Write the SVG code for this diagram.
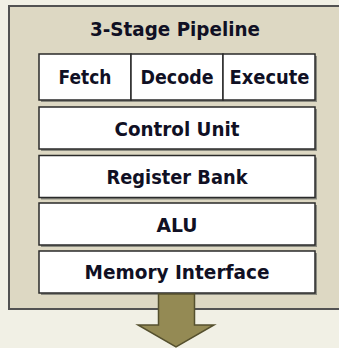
<svg xmlns="http://www.w3.org/2000/svg" width="339" height="348" viewBox="0 0 339 348">
<style>
.box{fill:#ffffff;stroke:#2a2a2a;stroke-width:1.5}
.shd{fill:#8a8a80}
.lbl{font-family:"DejaVu Sans","Liberation Sans",sans-serif;font-weight:bold;font-size:19px;fill:#101024;text-anchor:middle}
</style>
<rect x="0" y="0" width="339" height="348" fill="#f1f0e5"/>
<g id="pipeline">
<rect x="9" y="6" width="340" height="303" fill="#ddd8c3" stroke="#525252" stroke-width="2"/>
<text class="lbl" x="175" y="36" textLength="170" lengthAdjust="spacingAndGlyphs">3-Stage Pipeline</text>
</g>
<g id="fetch">
<rect class="shd" x="41" y="56" width="92" height="46"/>
<rect class="box" x="39" y="54" width="92" height="46"/>
<text class="lbl" x="85" y="84" textLength="53" lengthAdjust="spacingAndGlyphs">Fetch</text>
</g>
<g id="decode">
<rect class="shd" x="133" y="56" width="92" height="46"/>
<rect class="box" x="131" y="54" width="92" height="46"/>
<text class="lbl" x="177" y="84" textLength="73" lengthAdjust="spacingAndGlyphs">Decode</text>
</g>
<g id="execute">
<rect class="shd" x="225" y="56" width="92" height="46"/>
<rect class="box" x="223" y="54" width="92" height="46"/>
<text class="lbl" x="269.5" y="84" textLength="80" lengthAdjust="spacingAndGlyphs">Execute</text>
</g>
<g id="control-unit">
<rect class="shd" x="41" y="109" width="276" height="42"/>
<rect class="box" x="39" y="107" width="276" height="42"/>
<text class="lbl" x="177" y="135.5" textLength="125" lengthAdjust="spacingAndGlyphs">Control Unit</text>
</g>
<g id="register-bank">
<rect class="shd" x="41" y="157.5" width="276" height="42"/>
<rect class="box" x="39" y="155.5" width="276" height="42"/>
<text class="lbl" x="177" y="184" textLength="141" lengthAdjust="spacingAndGlyphs">Register Bank</text>
</g>
<g id="alu">
<rect class="shd" x="41" y="205" width="276" height="42"/>
<rect class="box" x="39" y="203" width="276" height="42"/>
<text class="lbl" x="177" y="231.5" textLength="41" lengthAdjust="spacingAndGlyphs">ALU</text>
</g>
<g id="memory-interface">
<rect class="shd" x="41" y="253" width="276" height="42"/>
<rect class="box" x="39" y="251" width="276" height="42"/>
<text class="lbl" x="177" y="279" textLength="185" lengthAdjust="spacingAndGlyphs">Memory Interface</text>
</g>
<g id="connectors">
<polygon points="158.5,294 194.5,294 194.5,325 214,325 176,347 138,325 158.5,325" fill="#948a54" stroke="#55502e" stroke-width="1.5" stroke-linejoin="miter"/>
</g>
</svg>
